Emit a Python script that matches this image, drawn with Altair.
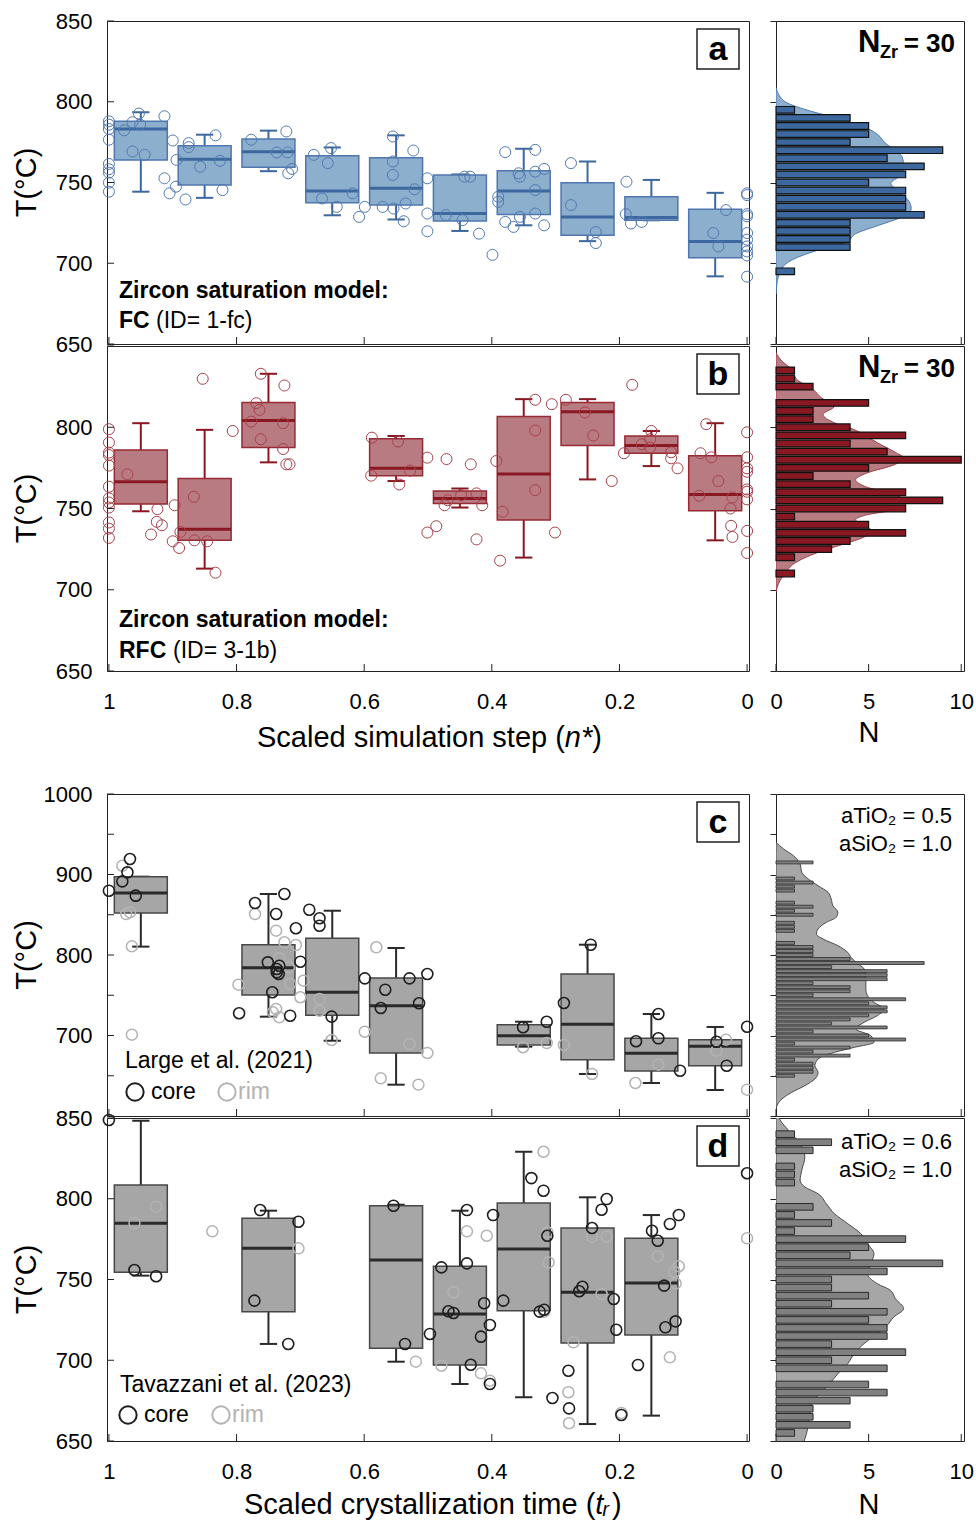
import altair as alt
import pandas as pd

FONT = "Liberation Sans"

# ---------------- texts ----------------
panel_letters = ["a", "b", "c", "d"]
model_line = "Zircon saturation model:"
a_model = ["FC", "(ID= 1-fc)"]
b_model = ["RFC", "(ID= 3-1b)"]
c_source = "Large et al. (2021)"
d_source = "Tavazzani et al. (2023)"
legend_words = ["core", "rim"]
nzr_parts = ["N", "Zr", "= 30"]
c_activity = ["aTiO₂ = 0.5", "aSiO₂ = 1.0"]
d_activity = ["aTiO₂ = 0.6", "aSiO₂ = 1.0"]
y_title = "T(°C)"
x_title_ab = ["Scaled simulation step (", "n*", ")"]
x_title_cd = ["Scaled crystallization time (", "tᵣ", ")"]
hist_title = "N"

# ---------------- axis values ----------------
x_ticks = [1, 0.8, 0.6, 0.4, 0.2, 0]
n_ticks = [0, 5, 10]
y_ticks_a = [650, 700, 750, 800, 850]
y_labels_a = [650, 700, 750, 800, 850]
y_ticks_b = [650, 700, 750, 800, 850]
y_labels_b = [650, 700, 750, 800]
y_ticks_c = [600, 650, 700, 750, 800, 850, 900, 950, 1000]
y_labels_c = [700, 800, 900, 1000]
y_ticks_d = [650, 700, 750, 800, 850]
y_labels_d = [650, 700, 750, 800, 850]

# ---------------- panel a (FC) ----------------
a_pos = [0.95, 0.85, 0.75, 0.65, 0.55, 0.45, 0.35, 0.25, 0.15, 0.05]
a_q1 = [764.0, 748.4, 759.5, 737.4, 736.0, 726.2, 730.2, 717.3, 726.6, 703.4]
a_med = [783.1, 764.4, 769.0, 744.7, 746.4, 730.8, 744.7, 728.7, 728.3, 713.5]
a_q3 = [787.9, 772.7, 776.9, 766.5, 765.4, 754.7, 757.3, 749.9, 741.2, 733.5]
a_wlo = [744.3, 740.5, 757.0, 729.7, 727.1, 720.0, 723.5, 713.7, 726.6, 691.9]
a_whi = [793.5, 779.6, 782.1, 771.7, 779.2, 755.0, 770.9, 763.0, 751.6, 743.6]
a_pts_n = [1, 1, 1, 1, 1, 1, 1, 1, 1,
           0.953, 0.913, 0.976, 0.963, 0.951, 0.963, 0.944,
           0.900, 0.875, 0.875, 0.894, 0.913, 0.895, 0.905, 0.880,
           0.857, 0.833, 0.826, 0.822,
           0.777, 0.722, 0.737, 0.720, 0.713, 0.719,
           0.679, 0.652, 0.657, 0.666, 0.618, 0.643, 0.608, 0.599,
           0.555, 0.523, 0.555, 0.555, 0.521, 0.571, 0.554, 0.535, 0.538, 0.501, 0.501, 0.501,
           0.472, 0.446, 0.443, 0.434, 0.420, 0.399,
           0.379, 0.332, 0.358, 0.356, 0.332, 0.318, 0.332, 0.390, 0.390, 0.379, 0.366, 0.356, 0.332, 0.318,
           0.276, 0.276, 0.237, 0.237,
           0.189, 0.190, 0.182, 0.165,
           0.033, 0.053, 0.045,
           0, 0, 0, 0, 0, 0, 0, 0, 0, 0]
a_pts_t = [787.9, 785.8, 783.1, 776.5, 761.5, 758.2, 756.1, 749.9, 744.3,
           792.7, 791.0, 782.3, 787.3, 785.8, 769.2, 767.1,
           776.0, 774.4, 771.9, 764.0, 752.6, 747.4, 743.3, 739.5,
           759.8, 779.2, 763.4, 745.3,
           776.5, 781.6, 768.6, 768.6, 758.4, 755.7,
           767.1, 771.3, 762.0, 740.1, 743.3, 734.9, 728.7, 734.9,
           778.5, 769.8, 763.0, 754.7, 745.8, 734.9, 733.9, 737.0, 726.0, 752.6, 730.8, 719.8,
           729.8, 726.7, 753.6, 753.6, 718.3, 705.2,
           768.8, 770.2, 755.7, 753.6, 756.7, 758.4, 745.3, 741.2, 738.0, 725.6, 722.5, 728.7, 730.8, 723.5,
           762.0, 736.0, 719.3, 712.5,
           750.5, 730.4, 724.6, 725.6,
           732.9, 718.7, 710.4,
           743.3, 742.2, 730.4, 729.1, 718.7, 714.6, 710.4, 707.3, 704.8, 691.7]
a_bin_t = [795, 790, 785, 780, 775, 770, 765, 760, 755, 750, 745, 740, 735, 730, 725, 720, 715, 710, 695]
a_bin_n = [1, 4, 5, 5, 4, 9, 6, 8, 7, 5, 7, 7, 7, 8, 4, 4, 4, 4, 1]
a_kde_t = [808.7, 804.5, 799.3, 794.1, 788.9, 783.7, 779.6, 774.4, 769.2, 766.1, 759.9, 754.2, 749.5,
           743.9, 738.0, 733.7, 728.7, 723.7, 718.3, 713.1, 707.9, 701.7, 695.5, 687.2, 680.9]
a_kde_n = [0, 0.15, 0.6, 1.9, 3.6, 4.9, 5.5, 5.9, 6.5, 6.8, 6.9, 6.7, 6.2,
           6.7, 7.2, 7.3, 6.8, 5.6, 4.3, 3.8, 2.2, 0.8, 0.25, 0.05, 0]

# ---------------- panel b (RFC) ----------------
b_pos = [0.95, 0.85, 0.75, 0.55, 0.45, 0.35, 0.25, 0.15, 0.05]
b_q1 = [752.7, 730.4, 787.5, 770.2, 753.1, 743.0, 788.7, 784.0, 748.6]
b_med = [766.5, 737.2, 804.1, 774.7, 756.2, 771.2, 809.6, 788.7, 758.6]
b_q3 = [786.0, 768.5, 815.2, 793.0, 760.7, 806.6, 815.2, 794.6, 782.5]
b_wlo = [748.3, 713.0, 778.4, 766.9, 750.6, 719.8, 767.9, 776.1, 730.4]
b_whi = [802.5, 798.4, 832.9, 794.6, 762.3, 817.3, 817.3, 797.7, 802.5]
b_pts_n = [1, 1, 1, 1, 1, 1, 1, 1, 1, 1, 1, 1,
           0.971, 0.924, 0.897, 0.925, 0.917, 0.934, 0.900, 0.888, 0.890, 0.867, 0.866, 0.846, 0.833, 0.853, 0.806,
           0.762, 0.725, 0.769, 0.764, 0.777, 0.727, 0.762, 0.727, 0.722, 0.717,
           0.588, 0.547, 0.589, 0.528, 0.545, 0.501, 0.501,
           0.471, 0.433, 0.487, 0.424, 0.469, 0.474, 0.448, 0.424, 0.415, 0.393,
           0.332, 0.332, 0.332, 0.383, 0.301, 0.387,
           0.306, 0.284, 0.254, 0.241, 0.212,
           0.180, 0.193, 0.165, 0.150, 0.152, 0.152, 0.119, 0.119, 0.109,
           0.064, 0.073, 0.056, 0.045, 0.075, 0.023, 0.026, 0.025, 0.023,
           0, 0, 0, 0, 0, 0, 0, 0, 0]
b_pts_t = [798.8, 790.6, 784.4, 782.9, 776.4, 763.4, 756.2, 753.7, 750.6, 741.4, 737.6, 731.9,
           771.0, 749.6, 752.0, 741.8, 739.7, 734.0, 729.8, 735.6, 725.7, 757.2, 730.4, 729.8, 710.5, 829.8, 797.7,
           832.9, 825.7, 814.8, 810.7, 803.5, 802.5, 792.6, 786.6, 777.2, 777.2,
           793.6, 791.2, 770.2, 773.3, 764.8, 781.3, 735.2,
           780.4, 777.2, 739.1, 731.0, 755.1, 752.0, 758.2, 759.3, 752.0, 779.2,
           816.9, 798.0, 761.3, 748.0, 735.2, 717.9,
           814.2, 816.9, 809.1, 794.9, 766.9,
           826.1, 784.0, 789.5, 797.7, 792.6, 787.5, 784.6, 780.9, 774.7,
           801.9, 784.0, 781.5, 766.9, 757.8, 756.8, 750.0, 739.3, 732.5,
           796.9, 781.5, 774.7, 772.6, 761.7, 760.3, 755.6, 736.2, 722.6]
b_bin_t = [835, 830, 825, 815, 810, 805, 800, 795, 790, 785, 780, 775, 770, 765, 760, 755, 750, 745,
           740, 735, 730, 725, 720, 710]
b_bin_n = [1, 1, 2, 5, 2, 2, 4, 7, 4, 6, 10, 5, 2, 4, 7, 9, 7, 1, 5, 7, 4, 3, 1, 1]
b_kde_t = [845.9, 840.7, 835.6, 829.4, 823.3, 818.1, 813.0, 807.8, 802.7, 798.6, 794.4, 790.3, 784.2,
           781.1, 777.0, 771.8, 767.7, 763.6, 758.4, 754.3, 749.2, 746.1, 743.0, 738.9, 735.8, 731.7,
           726.5, 721.4, 716.3, 710.1, 703.9, 698.8]
b_kde_n = [0, 0.32, 0.85, 1.12, 2.0, 2.45, 3.16, 2.54, 3.16, 4.2, 4.9, 5.5, 6.5,
           6.9, 6.4, 4.9, 4.3, 4.8, 6.4, 7.1, 6.4, 4.9, 4.3, 4.9, 5.2, 4.6,
           3.2, 1.9, 1.0, 0.5, 0.14, 0]

# ---------------- panel c (Large et al. 2021) ----------------
c_pos = [0.95, 0.75, 0.65, 0.55, 0.35, 0.25, 0.15, 0.05]
c_q1 = [852.2, 750.3, 725.3, 678.3, 688.2, 669.9, 655.9, 662.5]
c_med = [877.0, 784.3, 753.6, 737.0, 699.8, 713.9, 677.9, 686.6]
c_q3 = [897.3, 812.8, 820.7, 771.4, 713.4, 776.4, 696.5, 694.8]
c_wlo = [810.4, 723.4, 693.5, 638.9, 686.1, 652.2, 641.0, 632.3]
c_whi = [897.3, 875.8, 855.0, 808.7, 717.1, 812.8, 726.7, 710.6]
c_core_n = [1.0, 0.979, 0.971, 0.967, 0.958, 0.771, 0.725, 0.738, 0.707, 0.751, 0.733, 0.737, 0.737,
            0.734, 0.700, 0.744, 0.796, 0.716, 0.686, 0.670, 0.670, 0.599, 0.651, 0.567, 0.574, 0.529,
            0.501, 0.514, 0.351, 0.314, 0.287, 0.245, 0.174, 0.139, 0.139, 0.105, 0.048, 0.032, 0.0]
c_core_t = [879.9, 891.5, 902.7, 919.3, 873.7, 864.6, 875.8, 850.9, 833.2, 790.9, 786.7, 782.6, 778.5,
            776.4, 791.7, 753.7, 727.6, 724.6, 856.3, 845.6, 836.4, 771.0, 723.4, 756.9, 734.2, 771.0,
            776.4, 740.0, 710.2, 717.1, 740.4, 812.8, 692.8, 726.7, 696.5, 656.3, 692.3, 662.5, 710.9]
c_rim_n = [0.979, 0.973, 0.967, 0.964, 0.964, 0.771, 0.738, 0.725, 0.707, 0.797, 0.733, 0.718, 0.716,
           0.695, 0.700, 0.738, 0.733, 0.743, 0.670, 0.670, 0.651, 0.599, 0.581, 0.529, 0.501, 0.574,
           0.515, 0.351, 0.314, 0.287, 0.243, 0.175, 0.139, 0.033, 0.048, 0.0]
c_rim_t = [910.9, 850.9, 853.0, 810.8, 701.0, 850.9, 830.2, 815.8, 812.4, 763.1, 795.9, 784.7, 764.0,
           768.1, 747.5, 732.9, 722.6, 728.8, 745.3, 730.8, 694.4, 704.7, 809.6, 689.4, 678.3, 646.8,
           638.9, 685.4, 690.7, 688.2, 652.2, 641.0, 663.8, 694.8, 681.1, 632.7]
c_bin_t = [915, 895, 890, 885, 880, 865, 860, 855, 850, 840, 835, 830, 815, 810, 805, 800,
           795, 790, 785, 780, 775, 770, 765, 760, 755, 750, 745, 740, 735, 730, 725, 720, 715, 710,
           705, 700, 695, 690, 685, 680, 675, 670, 665, 660, 655, 650]
c_bin_n = [2, 1, 2, 1, 1, 1, 2, 1, 2, 1, 1, 1, 1, 2, 2, 2,
           4, 8, 3, 6, 6, 6, 2, 4, 4, 2, 7, 5, 6, 6, 5, 4, 3, 6,
           2, 5, 7, 1, 4, 2, 4, 1, 2, 2, 2, 1]
c_kde_t = [940.0, 931.7, 923.4, 913.0, 902.7, 894.4, 886.1, 877.8, 869.6, 861.3, 853.0, 846.8, 840.6,
           832.3, 826.1, 819.9, 811.6, 803.3, 797.1, 790.9, 782.6, 774.3, 766.1, 757.8, 749.5, 741.2,
           732.9, 724.6, 716.4, 708.1, 699.8, 691.5, 685.3, 679.1, 670.8, 662.5, 654.2, 646.0, 637.7,
           629.4, 621.1, 612.8, 608.7]
c_kde_n = [0, 0.41, 0.94, 1.30, 1.39, 1.74, 2.27, 2.81, 2.98, 3.07, 3.34, 3.25, 2.72,
           2.27, 2.18, 2.54, 3.34, 3.87, 4.05, 4.32, 4.76, 4.85, 4.85, 4.85, 4.94, 5.29,
           5.83, 5.47, 4.76, 4.32, 5.12, 5.29, 4.23, 3.16, 2.27, 2.10, 2.27, 2.10, 1.56,
           0.85, 0.32, 0.05, 0]

# ---------------- panel d (Tavazzani et al. 2023) ----------------
d_pos = [0.95, 0.75, 0.55, 0.45, 0.35, 0.25, 0.15]
d_q1 = [754.5, 730.1, 707.4, 697.1, 730.7, 710.7, 715.6]
d_med = [784.8, 769.3, 762.1, 728.6, 768.9, 742.1, 747.8]
d_q3 = [808.5, 787.9, 795.7, 758.2, 797.4, 781.9, 775.5]
d_wlo = [752.4, 710.1, 699.1, 685.3, 677.1, 660.5, 665.7]
d_whi = [848.3, 792.6, 796.3, 792.6, 829.1, 800.9, 789.9]
d_core_n = [1.0, 0.960, 0.926, 0.763, 0.703, 0.772, 0.719, 0.554, 0.536, 0.497, 0.479, 0.439, 0.439,
            0.468, 0.460, 0.412, 0.403, 0.417, 0.433, 0.403, 0.398, 0.338, 0.319, 0.313, 0.382, 0.325,
            0.318, 0.305, 0.280, 0.279, 0.220, 0.228, 0.243, 0.258, 0.263, 0.209, 0.205, 0.197, 0.149,
            0.140, 0.121, 0.107, 0.130, 0.128, 0.112, 0.171, 0.0]
d_core_t = [848.8, 755.9, 752.0, 793.0, 785.8, 736.9, 710.1, 795.7, 710.1, 716.3, 757.5, 793.0, 760.0,
            730.3, 729.3, 735.3, 721.8, 714.6, 697.2, 685.3, 789.9, 812.8, 805.0, 777.1, 736.9, 730.1,
            731.3, 676.6, 693.5, 670.2, 799.8, 793.2, 781.9, 745.5, 742.7, 737.9, 718.9, 666.1, 780.2,
            774.0, 784.4, 789.9, 746.2, 720.4, 724.1, 697.1, 815.8]
d_rim_n = [0.926, 0.960, 0.838, 0.703, 0.519, 0.439, 0.408, 0.460, 0.479, 0.417, 0.403, 0.319, 0.313,
           0.311, 0.318, 0.272, 0.280, 0.279, 0.243, 0.220, 0.228, 0.197, 0.140, 0.114, 0.107, 0.112,
           0.121, 0.0]
d_rim_t = [795.1, 784.8, 779.8, 769.3, 699.1, 779.8, 777.1, 742.1, 696.6, 691.9, 687.3, 829.1, 779.2,
           760.6, 730.1, 711.1, 680.2, 661.0, 776.5, 776.5, 741.0, 667.4, 764.4, 754.8, 758.2, 747.6,
           701.8, 775.5]
d_bin_t = [840, 835, 830, 820, 815, 810, 795, 790, 785, 780, 775, 770, 765, 760, 755, 750, 745, 740,
           735, 730, 725, 720, 715, 710, 705, 700, 695, 685, 680, 675, 670, 665, 660, 655]
d_bin_n = [1, 3, 2, 1, 1, 1, 2, 1, 3, 1, 7, 5, 4, 9, 6, 3, 3, 5,
           3, 6, 5, 6, 6, 3, 7, 3, 6, 5, 6, 4, 2, 2, 4, 1]
d_kde_t = [850.6, 848.6, 842.4, 834.1, 825.9, 817.6, 811.4, 807.3, 803.1, 796.9, 790.7, 784.6, 778.4,
           772.2, 766.0, 759.8, 753.6, 747.4, 743.3, 738.1, 731.9, 726.8, 721.6, 716.5, 710.3, 704.1,
           697.9, 691.7, 685.5, 679.4, 673.2, 667.0, 660.8, 654.6, 651.5, 645.0]
d_kde_n = [0.14, 0.23, 0.67, 1.30, 1.56, 1.39, 1.30, 1.56, 2.27, 2.72, 3.16, 3.87, 4.58,
           4.94, 5.29, 5.12, 4.94, 5.47, 6.18, 6.45, 6.89, 6.36, 6.00, 5.47, 4.76, 4.23,
           3.87, 3.34, 2.90, 2.36, 1.92, 1.83, 1.74, 1.65, 1.56, 1.4]

# ---------------- styles ----------------
BLUE_FILL, BLUE_DARK, BLUE_EDGE, BLUE_PT = "#8BAFCC", "#3D689F", "#4F77AE", "#5279B3"
RED_FILL, RED_DARK, RED_EDGE, RED_PT = "#B97B82", "#8A1822", "#962A35", "#A8414C"
GRAY_FILL, GRAY_DARK, GRAY_EDGE = "#A6A6A6", "#2A2A2A", "#474747"
CORE, RIM = "#1E1E1E", "#B3B3B3"
INK = "#222222"

W_MAIN, W_HIST = 642, 188
H_A, H_B, H_SP, H_C, H_D = 323, 325, 119, 322, 323
XSC = alt.Scale(domain=[-0.003, 1.003], reverse=True, nice=False, zero=False)
NSC = alt.Scale(domain=[0, 10.15], nice=False, zero=False)


def label(s, x, y, size, weight="normal", align="left", baseline="alphabetic",
          color="black", style="normal", angle=0):
    return alt.Chart(pd.DataFrame({"s": [s]})).mark_text(
        font=FONT, fontSize=size, fontWeight=weight, align=align, baseline=baseline,
        color=color, fontStyle=style, angle=angle
    ).encode(x=alt.value(x), y=alt.value(y), text="s:N")


def letter_box(letter):
    rect = alt.Chart(pd.DataFrame({"s": [letter]})).mark_rect(
        fill="white", stroke=INK, strokeWidth=1.5
    ).encode(x=alt.value(590), x2=alt.value(632), y=alt.value(8), y2=alt.value(48))
    return [rect, label(letter, 611, 29, 34, weight="bold", align="center", baseline="middle")]


def legend_marks(cx, rx, y):
    core_pt = alt.Chart(pd.DataFrame({"s": [legend_words[0]]})).mark_point(
        shape="circle", filled=False, size=300, strokeWidth=2, color=CORE, opacity=1
    ).encode(x=alt.value(cx), y=alt.value(y))
    rim_pt = alt.Chart(pd.DataFrame({"s": [legend_words[1]]})).mark_point(
        shape="circle", filled=False, size=300, strokeWidth=2, color=RIM, opacity=1
    ).encode(x=alt.value(rx), y=alt.value(y))
    return [core_pt, rim_pt,
            label(legend_words[0], cx + 16, y, 23, baseline="middle", color="black"),
            label(legend_words[1], rx + 11, y, 23, baseline="middle", color=RIM)]


def main_panel(box, point_sets, ydom, ylabels, yticks, h, show_x, fill, dark, edge, extras):
    ysc = alt.Scale(domain=ydom, nice=False, zero=False)
    xax = alt.Axis(values=x_ticks, format="~g", labels=show_x, ticks=False, tickSize=0,
                   domain=False, grid=False, title=None, labelPadding=20, labelFlush=False)
    yax = alt.Axis(values=ylabels, format="d", ticks=False, tickSize=0, domain=False,
                   grid=False, title=None, labelPadding=15)

    def X(f):
        return alt.X(f, type="quantitative", scale=XSC, axis=xax)

    def Y(f):
        return alt.Y(f, type="quantitative", scale=ysc, axis=yax)

    base = alt.Chart(box).transform_calculate(
        l="datum.n - 0.0415", r="datum.n + 0.0415",
        cl="datum.n - 0.0135", cr="datum.n + 0.0135")
    layers = [
        base.mark_rule(color=dark, strokeWidth=2).encode(x=X("n"), y=Y("wlo"), y2=alt.Y2("whi")),
        base.mark_rule(color=dark, strokeWidth=2).encode(x=X("cl"), x2=alt.X2("cr"), y=Y("whi")),
        base.mark_rule(color=dark, strokeWidth=2).encode(x=X("cl"), x2=alt.X2("cr"), y=Y("wlo")),
        base.mark_rect(fill=fill, stroke=edge, strokeWidth=1.5).encode(
            x=X("l"), x2=alt.X2("r"), y=Y("q1"), y2=alt.Y2("q3")),
        base.mark_rule(color=dark, strokeWidth=3).encode(x=X("l"), x2=alt.X2("r"), y=Y("med")),
    ]
    for pdf, col, sw in point_sets:
        layers.append(alt.Chart(pdf).mark_point(
            shape="circle", filled=False, size=121, strokeWidth=sw, color=col, opacity=1
        ).encode(x=X("n"), y=Y("t")))
    layers.append(alt.Chart(pd.DataFrame({"v": x_ticks})).mark_rule(color=INK, strokeWidth=1).encode(
        x=X("v"), y=alt.value(h), y2=alt.value(h - 7)))
    layers.append(alt.Chart(pd.DataFrame({"v": yticks})).mark_rule(color=INK, strokeWidth=1).encode(
        y=Y("v"), x=alt.value(0), x2=alt.value(7)))
    layers.append(label(y_title, -80, h / 2, 29, align="center", baseline="middle", angle=270))
    layers += extras
    return alt.layer(*layers).properties(width=W_MAIN, height=h)


def hist_panel(bt, bn, kt, kn, ydom, yticks, h, show_x, half, bar_fill, bar_stroke, bar_sw,
               kde_fill, kde_stroke, extras):
    ysc = alt.Scale(domain=ydom, nice=False, zero=False)
    nax = alt.Axis(values=n_ticks, format="d", labels=show_x, ticks=False, tickSize=0,
                   domain=False, grid=False, title=None, labelPadding=20, labelFlush=False)
    yax = alt.Axis(values=yticks, labels=False, ticks=True, tickSize=6, tickWidth=1,
                   tickColor=INK, domain=False, grid=False, title=None)

    def X(f):
        return alt.X(f, type="quantitative", scale=NSC, axis=nax, stack=None)

    def Y(f):
        return alt.Y(f, type="quantitative", scale=ysc, axis=yax)

    kde = alt.Chart(pd.DataFrame({"t": kt, "n": kn})).transform_calculate(z="0").mark_area(
        orient="horizontal", fill=kde_fill, stroke=kde_stroke, strokeWidth=1, clip=True,
        interpolate="monotone"
    ).encode(y=Y("t"), x=X("n"), x2=alt.X2("z"))
    bars = alt.Chart(pd.DataFrame({"t": bt, "c": bn})).transform_calculate(
        lo=f"datum.t - {half}", hi=f"datum.t + {half}", z="0"
    ).mark_rect(fill=bar_fill, stroke=bar_stroke, strokeWidth=bar_sw).encode(
        x=X("z"), x2=alt.X2("c"), y=Y("lo"), y2=alt.Y2("hi"))
    ticks = alt.Chart(pd.DataFrame({"v": n_ticks})).mark_rule(color=INK, strokeWidth=1).encode(
        x=X("v"), y=alt.value(h), y2=alt.value(h - 7))
    layers = [kde, bars, ticks] + extras
    return alt.layer(*layers).properties(width=W_HIST, height=h)


def spacer(w):
    return alt.Chart(pd.DataFrame({"v": [0]})).mark_point(opacity=0).encode(
        x=alt.value(0), y=alt.value(0)
    ).properties(width=w, height=H_SP, view=alt.ViewBackground(strokeOpacity=0))


def box_df(pos, q1, med, q3, wlo, whi):
    return pd.DataFrame({"n": pos, "q1": q1, "med": med, "q3": q3, "wlo": wlo, "whi": whi})


def nzr_text():
    return [label(nzr_parts[0], 82, 31, 31, weight="bold"),
            label(nzr_parts[1], 104, 37, 18, weight="bold"),
            label(nzr_parts[2], 179, 31, 26, weight="bold", align="right")]


def activity_text(lines, y0):
    return [label(lines[0], 176, y0, 22, align="right", baseline="middle"),
            label(lines[1], 176, y0 + 28, 22, align="right", baseline="middle")]


# ---------------- panel a ----------------
a_extras = letter_box(panel_letters[0]) + [
    label(model_line, 12, H_A - 46, 23, weight="bold"),
    label(a_model[0], 12, H_A - 16, 23, weight="bold"),
    label(a_model[1], 49, H_A - 16, 23),
]
a_main = main_panel(box_df(a_pos, a_q1, a_med, a_q3, a_wlo, a_whi),
                    [(pd.DataFrame({"n": a_pts_n, "t": a_pts_t}), BLUE_PT, 1.0)],
                    [650, 850], y_labels_a, y_ticks_a, H_A, False,
                    BLUE_FILL, BLUE_DARK, BLUE_EDGE, a_extras)
a_hist = hist_panel(a_bin_t, a_bin_n, a_kde_t, a_kde_n, [650, 850], y_ticks_a, H_A, False, 2.05,
                    BLUE_DARK, "#111111", 1.2, BLUE_FILL, BLUE_EDGE, nzr_text())

# ---------------- panel b ----------------
b_extras = letter_box(panel_letters[1]) + [
    label(model_line, 12, H_B - 44, 23, weight="bold"),
    label(b_model[0], 12, H_B - 13, 23, weight="bold"),
    label(b_model[1], 66, H_B - 13, 23),
    label(x_title_ab[0], 150, H_B + 76, 29),
    label(x_title_ab[1], 457.8, H_B + 76, 29, style="italic"),
    label(x_title_ab[2], 485.2, H_B + 76, 29),
]
b_main = main_panel(box_df(b_pos, b_q1, b_med, b_q3, b_wlo, b_whi),
                    [(pd.DataFrame({"n": b_pts_n, "t": b_pts_t}), RED_PT, 1.0)],
                    [650, 850], y_labels_b, y_ticks_b, H_B, True,
                    RED_FILL, RED_DARK, RED_EDGE, b_extras)
b_hist = hist_panel(b_bin_t, b_bin_n, b_kde_t, b_kde_n, [650, 850], y_ticks_b, H_B, True, 2.05,
                    RED_DARK, "#111111", 1.2, RED_FILL, "#A0404C",
                    nzr_text() + [label(hist_title, 93, H_B + 71, 29, align="center")])

# ---------------- panel c ----------------
c_extras = letter_box(panel_letters[2]) + [
    label(c_source, 18, 267, 23, baseline="middle"),
] + legend_marks(28, 120, 298)
c_main = main_panel(box_df(c_pos, c_q1, c_med, c_q3, c_wlo, c_whi),
                    [(pd.DataFrame({"n": c_rim_n, "t": c_rim_t}), RIM, 1.5),
                     (pd.DataFrame({"n": c_core_n, "t": c_core_t}), CORE, 1.6)],
                    [600, 1000], y_labels_c, y_ticks_c, H_C, False,
                    GRAY_FILL, GRAY_DARK, GRAY_EDGE, c_extras)
c_hist = hist_panel(c_bin_t, c_bin_n, c_kde_t, c_kde_n, [600, 1000], y_ticks_c, H_C, False, 1.8,
                    "#808080", "#2A2A2A", 0.8, GRAY_FILL, "#4A4A4A",
                    activity_text(c_activity, 22))

# ---------------- panel d ----------------
d_extras = letter_box(panel_letters[3]) + [
    label(d_source, 13, 267, 23, baseline="middle"),
    label(x_title_cd[0], 137, H_D + 73, 29),
    label(x_title_cd[1], 488.3, H_D + 73, 29, style="italic"),
    label(x_title_cd[2], 505.0, H_D + 73, 29),
] + legend_marks(21, 114, 297)
d_main = main_panel(box_df(d_pos, d_q1, d_med, d_q3, d_wlo, d_whi),
                    [(pd.DataFrame({"n": d_rim_n, "t": d_rim_t}), RIM, 1.5),
                     (pd.DataFrame({"n": d_core_n, "t": d_core_t}), CORE, 1.6)],
                    [650, 850], y_labels_d, y_ticks_d, H_D, True,
                    GRAY_FILL, GRAY_DARK, GRAY_EDGE, d_extras)
d_hist = hist_panel(d_bin_t, d_bin_n, d_kde_t, d_kde_n, [650, 850], y_ticks_d, H_D, True, 2.05,
                    "#808080", "#2A2A2A", 1.0, GRAY_FILL, "#4A4A4A",
                    activity_text(d_activity, 24) + [label(hist_title, 93, H_D + 73, 29, align="center")])

chart = alt.concat(
    a_main, a_hist,
    b_main, b_hist,
    spacer(W_MAIN), spacer(W_HIST),
    c_main, c_hist,
    d_main, d_hist,
    columns=2, spacing={"row": 2, "column": 27}, bounds="flush", align="each",
).properties(
    padding={"left": 12, "top": 9, "right": 1, "bottom": 0}
).configure(font=FONT).configure_view(stroke=INK, strokeWidth=1).configure_axis(
    labelFont=FONT, labelFontSize=22, labelColor="black"
)

chart.save("out.html", embed_options={"renderer": "svg", "actions": False})
